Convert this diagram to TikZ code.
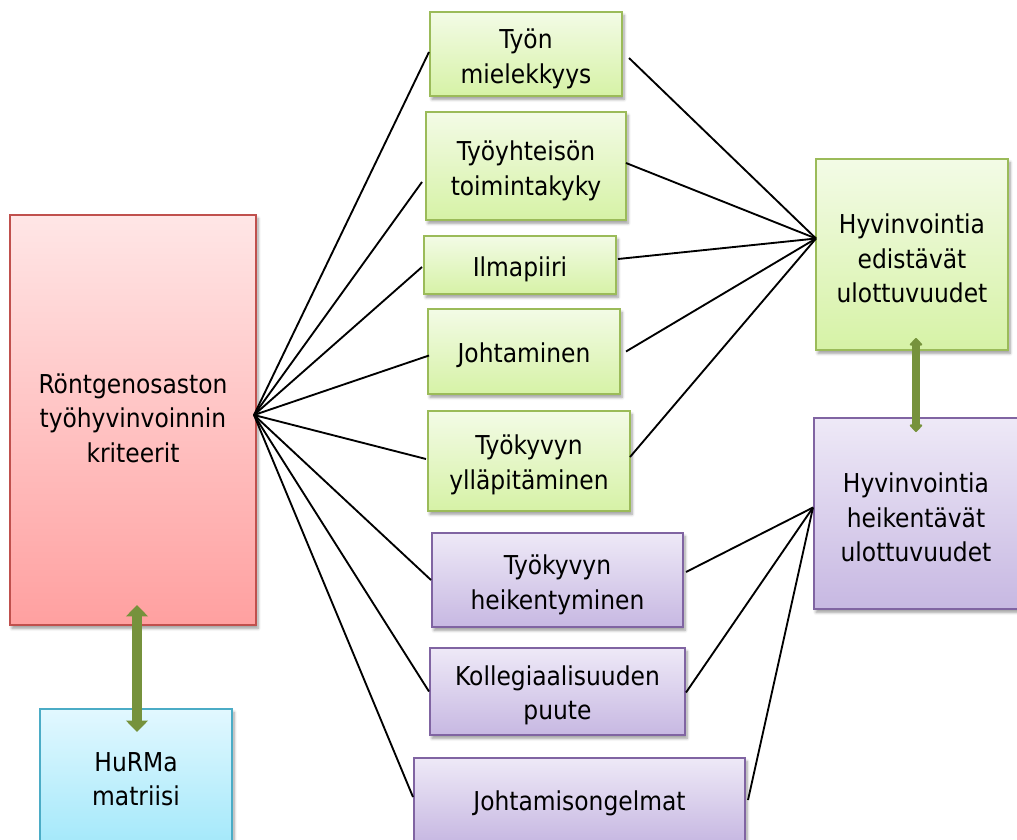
\documentclass[tikz,border=0pt]{standalone}
\usepackage{fontspec}
\setmainfont{DejaVu Sans Condensed}
\usetikzlibrary{calc,arrows.meta,shadows.blur}

\definecolor{gtop}{RGB}{243,251,230}
\definecolor{gbot}{RGB}{214,242,166}
\definecolor{gline}{RGB}{155,187,89}
\definecolor{vtop}{RGB}{238,233,247}
\definecolor{vbot}{RGB}{199,184,226}
\definecolor{vline}{RGB}{128,100,162}
\definecolor{rtop}{RGB}{255,230,230}
\definecolor{rbot}{RGB}{255,160,160}
\definecolor{rline}{RGB}{192,80,77}
\definecolor{btop}{RGB}{226,248,255}
\definecolor{bbot}{RGB}{162,232,250}
\definecolor{bline}{RGB}{75,172,198}
\definecolor{olive}{RGB}{118,146,60}

\def\pxu{0.75pt}

\begin{document}
\begin{tikzpicture}[x=0.75pt,y=-0.75pt,
  every node/.style={font=\fontsize{19.5pt}{25.9pt}\selectfont, align=center, inner sep=0pt},
  box/.style={draw, line width=1.5pt, rectangle,
    blur shadow={shadow xshift=1.5pt, shadow yshift=-2.5pt, shadow blur steps=6, shadow opacity=40}},
  % box text, lowered by #1 px from the box centre
  txt/.style 2 args={label={[align=center, yshift=-#1*\pxu]center:{#2}}},
  gbox/.style={box, draw=gline, top color=gtop, bottom color=gbot},
  vbox/.style={box, draw=vline, top color=vtop, bottom color=vbot},
  rbox/.style={box, draw=rline, top color=rtop, bottom color=rbot},
  bbox/.style={box, draw=bline, top color=btop, bottom color=bbot},
  link/.style={line width=1.4pt, black},
  bigarrow/.style={draw=olive, line width=7pt,
    {Triangle[width=16pt,length=8.5pt]}-{Triangle[width=16pt,length=8.5pt]}},
  smallarrow/.style={draw=olive, line width=5.5pt,
    {Triangle[width=11pt,length=6pt,round]}-{Triangle[width=11pt,length=6pt,round]}},
]
\useasboundingbox (0,0) rectangle (1017,839);

% left column
\node[rbox, minimum width=246*\pxu, minimum height=410*\pxu,
  txt={-2}{Röntgenosaston\\työhyvinvoinnin\\kriteerit}] (red) at (133,420) {};
\node[bbox, minimum width=192*\pxu, minimum height=140*\pxu,
  txt={0}{HuRMa\\matriisi}] (hurma) at (136,779) {};

% middle column: promoting factors
\node[gbox, minimum width=192*\pxu, minimum height=84*\pxu,
  txt={5}{Työn\\mielekkyys}] (tyon) at (526,54) {};
\node[gbox, minimum width=200*\pxu, minimum height=108*\pxu,
  txt={5}{Työyhteisön\\toimintakyky}] (yhteis) at (526,166) {};
\node[gbox, minimum width=192*\pxu, minimum height=58*\pxu,
  txt={4}{Ilmapiiri}] (ilma) at (520,265) {};
\node[gbox, minimum width=192*\pxu, minimum height=85*\pxu,
  txt={4}{Johtaminen}] (joht) at (524,351.5) {};
\node[gbox, minimum width=202*\pxu, minimum height=100*\pxu,
  txt={4}{Työkyvyn\\ylläpitäminen}] (yllap) at (529,461) {};

% middle column: weakening factors
\node[vbox, minimum width=251*\pxu, minimum height=94*\pxu,
  txt={5}{Työkyvyn\\heikentyminen}] (heiken) at (557.5,580) {};
\node[vbox, minimum width=255*\pxu, minimum height=87*\pxu,
  txt={4}{Kollegiaalisuuden\\puute}] (koll) at (557.5,691.5) {};
\node[vbox, minimum width=331*\pxu, minimum height=84*\pxu,
  txt={3}{Johtamisongelmat}] (johtong) at (579.5,800) {};

% right column
\node[gbox, minimum width=192*\pxu, minimum height=191*\pxu,
  txt={4}{Hyvinvointia\\edistävät\\ulottuvuudet}] (edist) at (912,254.5) {};
\node[vbox, minimum width=204*\pxu, minimum height=191*\pxu,
  txt={4}{Hyvinvointia\\heikentävät\\ulottuvuudet}] (heik) at (916,513.5) {};

% meeting points of the connector fans
\coordinate (hubL) at ($(red.east)+(-3,-5)$);
\coordinate (hubG) at ($(edist.west)+(1,-16)$);
\coordinate (hubV) at ($(heik.west)+(0,-6)$);

% fan from the criteria box
\draw[link] (hubL) -- ($(tyon.west)+(0,-2)$);
\draw[link] (hubL) -- ($(yhteis.west)+(-3,16)$);
\draw[link] (hubL) -- ($(ilma.west)+(-1,2)$);
\draw[link] (hubL) -- ($(joht.west)+(2,4)$);
\draw[link] (hubL) -- ($(yllap.west)+(-1,-2)$);
\draw[link] (hubL) -- (heiken.west);
\draw[link] (hubL) -- (koll.west);
\draw[link] (hubL) -- ($(johtong.west)+(0,-3)$);

% fan into the promoting dimensions
\draw[link] ($(tyon.east)+(6,4)$) -- (hubG);
\draw[link] ($(yhteis.east)+(-1,-3)$) -- (hubG);
\draw[link] ($(ilma.east)+(1,-6)$) -- (hubG);
\draw[link] ($(joht.east)+(5,0)$) -- (hubG);
\draw[link] ($(yllap.east)+(-1,-4)$) -- (hubG);

% fan into the weakening dimensions
\draw[link] ($(heiken.east)+(2,-8)$) -- (hubV);
\draw[link] ($(koll.east)+(0,1)$) -- (hubV);
\draw[link] ($(johtong.east)+(2,0)$) -- (hubV);

% two-way arrows
\draw[bigarrow] ($(red.south)+(4,-21)$) -- ($(hurma.north)+(1,24)$);
\draw[smallarrow] ($(edist.south)+(4,-13)$) -- ($(heik.north)+(0,15)$);
\end{tikzpicture}
\end{document}
